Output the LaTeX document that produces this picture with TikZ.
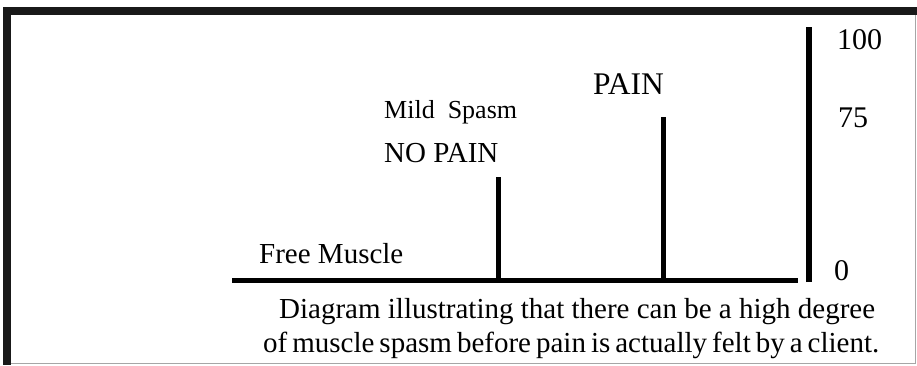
\documentclass[tikz,border=0pt]{standalone}
\usepackage{fontspec}
\setmainfont{Liberation Serif}
\begin{document}
\begin{tikzpicture}[x=1pt,y=-1pt,
  bar/.style={line width=5pt},
  lbl/.style={anchor=base west,inner sep=0pt,font=\fontsize{29}{34}\selectfont},
  big/.style={anchor=base west,inner sep=0pt,font=\fontsize{31.5}{36}\selectfont},
  small/.style={anchor=base west,inner sep=0pt,font=\fontsize{26}{30}\selectfont},
  num/.style={anchor=base west,inner sep=0pt,font=\fontsize{30}{34}\selectfont},
  captxt/.style={anchor=base west,inner sep=0pt,font=\fontsize{29}{34}\selectfont}]
\useasboundingbox (0,0) rectangle (917,365);
% frame
\fill[white] (0,0) rectangle (917,365);
\draw[gray!70,line width=1pt] (915.5,7) -- (915.5,363.5) -- (3,363.5);
\fill[black!90] (3,7) rectangle (917,15);
\fill[black!90] (3,7) rectangle (11,365);
% axes and bars
\coordinate (b0) at (232,280);
\coordinate (b1) at (798,280);
\coordinate (m0) at (498,280);
\coordinate (m1) at (498,177);
\coordinate (p0) at (663,280);
\coordinate (p1) at (663,117);
\coordinate (s0) at (809,282);
\coordinate (s1) at (809,27);
\draw[bar] (b0) -- (b1);
\draw[bar] (m0) -- (m1);
\draw[bar] (p0) -- (p1);
\draw[line width=6pt] (s0) -- (s1);
% labels
\node[lbl] (free) at (259,263) {Free Muscle};
\node[small] (mild) at (384,118) {Mild\ \ Spasm};
\node[lbl] (nopain) at (384,162) {NO PAIN};
\node[big] (pain) at (593,94) {PAIN};
\node[num] (n100) at (837,49) {100};
\node[num] (n75) at (838,127) {75};
\node[num] (n0) at (834,280) {0};
\node[captxt] (c1) at (279,318) {Diagram illustrating that there can be a high degree};
\node[captxt] (c2) at (263,352) {\spaceskip=5pt of muscle spasm before pain is actually felt by a client.};
\end{tikzpicture}
\end{document}
